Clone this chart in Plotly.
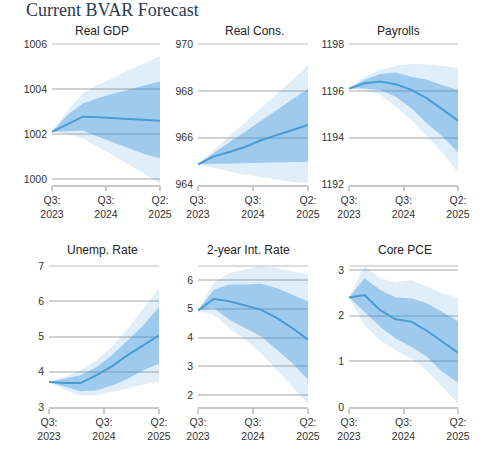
import plotly.graph_objects as go

W, H = 500, 460

quarters = ["Q3 2023", "Q4 2023", "Q1 2024", "Q2 2024", "Q3 2024", "Q4 2024", "Q1 2025", "Q2 2025"]
x_idx = list(range(len(quarters)))
tick_pos = [0, 3.5, 7]
tick_text = ["Q3:<br>2023", "Q3:<br>2024", "Q2:<br>2025"]

panel_titles = ["Real GDP", "Real Cons.", "Payrolls", "Unemp. Rate", "2-year Int. Rate", "Core PCE"]

# Real GDP
gdp_med = [1002.1, 1002.45, 1002.77, 1002.74, 1002.71, 1002.67, 1002.62, 1002.59]
gdp_in_hi = [1002.1, 1002.85, 1003.36, 1003.6, 1003.8, 1003.98, 1004.16, 1004.33]
gdp_in_lo = [1002.1, 1002.14, 1002.15, 1001.88, 1001.62, 1001.36, 1001.1, 1000.92]
gdp_out_hi = [1002.1, 1003.05, 1003.8, 1004.2, 1004.5, 1004.85, 1005.15, 1005.47]
gdp_out_lo = [1002.1, 1002.0, 1001.8, 1001.42, 1001.05, 1000.62, 1000.22, 999.8]

# Real Consumption
cons_med = [964.86, 965.2, 965.39, 965.6, 965.89, 966.1, 966.31, 966.54]
cons_in_hi = [964.86, 965.35, 965.8, 966.25, 966.72, 967.18, 967.63, 968.09]
cons_in_lo = [964.86, 964.88, 964.9, 964.9, 964.94, 964.95, 964.96, 964.97]
cons_out_hi = [964.86, 965.45, 966.05, 966.65, 967.25, 967.85, 968.45, 969.1]
cons_out_lo = [964.86, 964.7, 964.55, 964.42, 964.3, 964.2, 964.12, 964.06]

# Payrolls
pay_med = [1196.1, 1196.32, 1196.4, 1196.28, 1196.04, 1195.68, 1195.21, 1194.73]
pay_in_hi = [1196.1, 1196.47, 1196.72, 1196.78, 1196.6, 1196.47, 1196.25, 1196.04]
pay_in_lo = [1196.1, 1196.1, 1196.04, 1195.75, 1195.26, 1194.62, 1194.05, 1193.37]
pay_out_hi = [1196.1, 1196.6, 1196.89, 1197.06, 1197.15, 1197.13, 1197.06, 1196.99]
pay_out_lo = [1196.1, 1196.04, 1195.83, 1195.33, 1194.76, 1194.05, 1193.34, 1192.51]

# Unemployment rate
unemp_med = [3.71, 3.68, 3.68, 3.9, 4.15, 4.47, 4.75, 5.03]
unemp_in_hi = [3.71, 3.8, 3.9, 4.13, 4.47, 4.89, 5.32, 5.84]
unemp_in_lo = [3.71, 3.57, 3.45, 3.47, 3.61, 3.8, 4.04, 4.23]
unemp_out_hi = [3.71, 3.85, 4.04, 4.32, 4.7, 5.22, 5.79, 6.36]
unemp_out_lo = [3.71, 3.49, 3.33, 3.33, 3.43, 3.52, 3.64, 3.71]

# 2-year interest rate
rate_med = [4.94, 5.34, 5.26, 5.12, 4.97, 4.68, 4.33, 3.92]
rate_in_hi = [4.94, 5.66, 5.84, 5.84, 5.87, 5.72, 5.49, 5.26]
rate_in_lo = [4.94, 5.03, 4.62, 4.33, 4.04, 3.58, 3.11, 2.53]
rate_out_hi = [4.94, 5.9, 6.24, 6.36, 6.48, 6.42, 6.3, 6.19]
rate_out_lo = [4.94, 4.79, 4.33, 3.92, 3.46, 2.88, 2.3, 1.68]

# Core PCE
pce_med = [2.4, 2.45, 2.12, 1.92, 1.87, 1.67, 1.43, 1.19]
pce_in_hi = [2.4, 2.82, 2.56, 2.4, 2.38, 2.27, 2.08, 1.88]
pce_in_lo = [2.4, 2.08, 1.76, 1.5, 1.32, 1.1, 0.77, 0.53]
pce_out_hi = [2.4, 3.09, 2.82, 2.74, 2.78, 2.63, 2.49, 2.4]
pce_out_lo = [2.4, 1.79, 1.46, 1.24, 1.06, 0.8, 0.44, 0.07]

y_ticks = [
    [1000, 1002, 1004, 1006],
    [964, 966, 968, 970],
    [1192, 1194, 1196, 1198],
    [3, 4, 5, 6, 7],
    [2, 3, 4, 5, 6],
    [0, 1, 2, 3],
]
y_ranges = [
    [999.756, 1006.0],
    [964.0, 970.0],
    [1192.0, 1198.0],
    [3.0, 7.0],
    [1.583, 6.487],
    [0.0, 3.088],
]

series = [
    (gdp_med, gdp_in_lo, gdp_in_hi, gdp_out_lo, gdp_out_hi),
    (cons_med, cons_in_lo, cons_in_hi, cons_out_lo, cons_out_hi),
    (pay_med, pay_in_lo, pay_in_hi, pay_out_lo, pay_out_hi),
    (unemp_med, unemp_in_lo, unemp_in_hi, unemp_out_lo, unemp_out_hi),
    (rate_med, rate_in_lo, rate_in_hi, rate_out_lo, rate_out_hi),
    (pce_med, pce_in_lo, pce_in_hi, pce_out_lo, pce_out_hi),
]

# pixel layout of each plot area: (x0, x1, y_top, y_bottom)
boxes = [
    (52, 160, 44, 184.5),
    (198, 308, 44, 184.5),
    (349, 458, 44, 184.5),
    (49, 159, 266, 407),
    (198, 308, 266, 407),
    (349, 458, 266, 407),
]
title_pos = [(102, 31), (254, 31), (398, 31), (102, 250), (248, 250), (405, 250)]

OUTER = "rgba(60,150,220,0.16)"
INNER = "rgba(60,150,220,0.40)"
LINE = "#4a9bd5"
GRID = "#d2d2d2"
AXIS = "#c8c8c8"

fig = go.Figure()
layout = dict(
    template="none",
    width=W, height=H,
    margin=dict(l=0, r=0, t=0, b=0, pad=0),
    paper_bgcolor="white", plot_bgcolor="white",
    showlegend=False,
    font=dict(family="Liberation Sans, Arial, sans-serif", size=10.5, color="#333333"),
)
annotations = []
shapes = []

for i, (med, ilo, ihi, olo, ohi) in enumerate(series):
    n = i + 1
    xa = "x" if n == 1 else f"x{n}"
    ya = "y" if n == 1 else f"y{n}"
    common = dict(x=x_idx, xaxis=xa, yaxis=ya, mode="lines", hoverinfo="skip")
    fig.add_trace(go.Scatter(y=olo, line=dict(width=0, color=OUTER), **common))
    fig.add_trace(go.Scatter(y=ohi, line=dict(width=0, color=OUTER), fill="tonexty", fillcolor=OUTER, **common))
    fig.add_trace(go.Scatter(y=ilo, line=dict(width=0, color=INNER), **common))
    fig.add_trace(go.Scatter(y=ihi, line=dict(width=0, color=INNER), fill="tonexty", fillcolor=INNER, **common))
    fig.add_trace(go.Scatter(y=med, line=dict(width=2, color=LINE), **common))

    x0, x1, yt, yb = boxes[i]
    kx = "xaxis" if n == 1 else f"xaxis{n}"
    ky = "yaxis" if n == 1 else f"yaxis{n}"
    layout[kx] = dict(
        domain=[x0 / W, x1 / W], anchor=ya, range=[0, 7], automargin=False,
        tickvals=tick_pos, ticktext=tick_text, ticks="outside", ticklen=5,
        tickcolor=AXIS, tickwidth=1.5, showgrid=False, zeroline=False,
        showline=True, linecolor=AXIS, linewidth=1.5,
        tickfont=dict(size=10.5, color="#333333"), fixedrange=True,
    )
    layout[ky] = dict(
        domain=[1 - yb / H, 1 - yt / H], anchor=xa, range=y_ranges[i], automargin=False,
        tickvals=y_ticks[i], ticks="", showgrid=True, gridcolor=GRID, gridwidth=1.5,
        zeroline=False, showline=False, ticklabelstandoff=4,
        tickfont=dict(size=10.5, color="#333333"), fixedrange=True,
    )
    shapes.append(dict(type="line", xref=f"{xa} domain", yref=f"{ya} domain", layer="below",
                       x0=0, x1=1, y0=1, y1=1, line=dict(color=GRID, width=1.5)))
    tx, ty = title_pos[i]
    annotations.append(dict(text=panel_titles[i], x=tx / W, y=1 - ty / H, xref="paper", yref="paper",
                            xanchor="center", yanchor="middle", showarrow=False,
                            font=dict(size=12, color="#222222", family="Liberation Sans, Arial, sans-serif")))

annotations.append(dict(text="Current BVAR Forecast", x=24 / W, y=1 - 10 / H, xref="paper", yref="paper",
                        xanchor="left", yanchor="middle", showarrow=False,
                        font=dict(size=18, color="#2b3a50", family="Liberation Serif, Times New Roman, serif")))

layout["annotations"] = annotations
layout["shapes"] = shapes
fig.update_layout(**layout)
fig.write_html("out.html")
